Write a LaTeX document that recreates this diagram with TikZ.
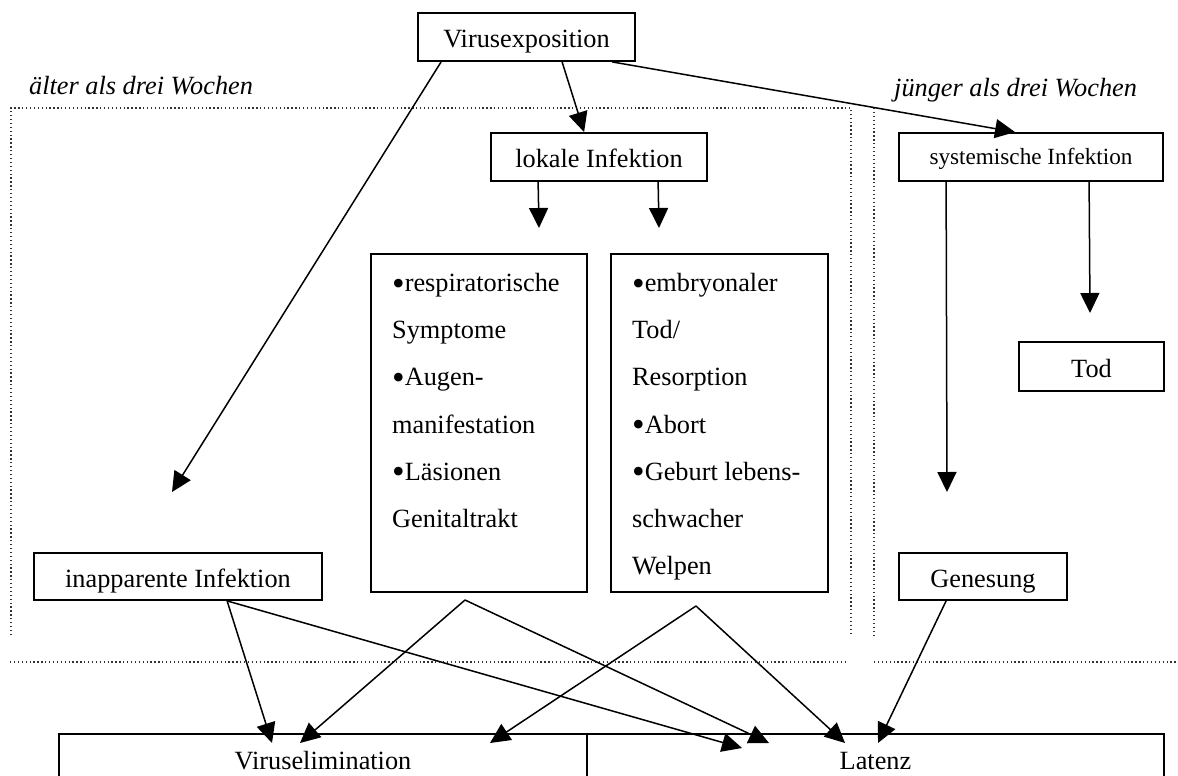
\documentclass[tikz,border=0pt]{standalone}
\usepackage{fontspec}
\setmainfont{Liberation Serif}
\usetikzlibrary{arrows.meta,calc}
\newcommand\mybul{{\fontsize{36}{30}\selectfont\raisebox{-3.4pt}{•}}}
\begin{document}
\begin{tikzpicture}[x=1pt,y=-1pt,
  box/.style={draw, line width=1.8pt, inner sep=0pt, text depth=0pt, font=\fontsize{26.3}{30}\selectfont},
  conn/.style={line width=1.5pt, -{Triangle[length=20pt,width=19pt]}},
  frame/.style={line width=1.1pt, black!80, dash pattern=on 1.3pt off 2.6pt},
  lbl/.style={font=\fontsize{26.3}{30}\selectfont, inner sep=0pt, anchor=base west},
  ital/.style={font=\fontsize{26.3}{30}\selectfont\itshape, inner sep=0pt, anchor=base west}]
\useasboundingbox (0,0) rectangle (1178,776);
\clip (0,0) rectangle (1178,776);

% dotted frames
\draw[frame] (11,635) -- (11,108) -- (851,108) -- (851,635);
\draw[frame] (874,108) -- (874,635);
\draw[frame] (10,662) -- (848,662);
\draw[frame] (874,662) -- (1178,662);

% labels
\node[ital] (old) at (29,95) {älter als drei Wochen};
\node[ital] (young) at (894,96) {jünger als drei Wochen};

% boxes
\node[box, minimum width=217pt, minimum height=48pt, text height=22pt] (vexp) at (526.5,37) {Virusexposition};
\node[box, minimum width=216pt, minimum height=48pt, text height=20pt] (lok) at (599,157) {lokale Infektion};
\node[box, minimum width=264pt, minimum height=48pt, text height=14pt, font=\fontsize{23.2}{28}\selectfont] (sys) at (1031,157) {systemische Infektion};
\node[box, line width=1.3pt, minimum width=145pt, minimum height=49pt, text height=21pt] (tod) at (1091.5,366.5) {Tod};
\node[box, minimum width=288pt, minimum height=47pt, text height=21pt] (inapp) at (178,576.5) {inapparente Infektion};
\node[box, minimum width=168pt, minimum height=47pt, text height=21pt] (gen) at (983,576.5) {Genesung};
\node[box, minimum width=216pt, minimum height=338pt] (sym) at (479,423) {};
\node[box, minimum width=217pt, minimum height=338pt] (emb) at (719.5,423) {};
\node[box, minimum width=528pt, minimum height=46pt, text height=24pt] (vel) at (323,757) {Viruselimination};
\node[box, minimum width=577pt, minimum height=46pt, text height=24pt] (lat) at (875.5,757) {Latenz};

% list texts
\foreach \t [count=\i from 0] in {\mybul respiratorische, Symptome, \mybul Augen-, manifestation, \mybul Läsionen, Genitaltrakt}
  \node[lbl] (s\i) at (392,291.7+47.1*\i) {\t};
\foreach \t [count=\i from 0] in {\mybul embryonaler, Tod/, Resorption, \mybul Abort, \mybul Geburt lebens-, schwacher, Welpen}
  \node[lbl] (e\i) at (632,291.7+47.1*\i) {\t};

% free ends
\coordinate (a1) at (172,492);
\coordinate (a2) at (539,228);
\coordinate (a3) at (659,228);
\coordinate (a4) at (947,492);
\coordinate (a5) at (1090,313);
\coordinate (p1) at (465,600);
\coordinate (p2) at (696,606);
\coordinate (v1) at (272,743);
\coordinate (v2) at (300,743);
\coordinate (v3) at (490,743);
\coordinate (l1) at (742,748);
\coordinate (l2) at (769,743);
\coordinate (l3) at (845,743);
\coordinate (l4) at (878,743);

% connectors
\draw[conn] ([xshift=24pt]vexp.south west) -- (a1);
\draw[conn] ([xshift=145pt]vexp.south west) -- ([xshift=94pt]lok.north west);
\draw[conn] ([xshift=195pt]vexp.south west) -- ([xshift=117pt]sys.north west);
\draw[conn] ([xshift=48pt]lok.south west) -- (a2);
\draw[conn] ([xshift=168pt]lok.south west) -- (a3);
\draw[conn] ([xshift=48pt]sys.south west) -- (a4);
\draw[conn] ([xshift=191pt]sys.south west) -- (a5);
\draw[conn] ([xshift=194pt]inapp.south west) -- (v1);
\draw[conn] ([xshift=194pt]inapp.south west) -- (l1);
\draw[conn] (p1) -- (v2);
\draw[conn] (p1) -- (l2);
\draw[conn] (p2) -- (v3);
\draw[conn] (p2) -- (l3);
\draw[conn] ([xshift=48pt]gen.south west) -- (l4);
\end{tikzpicture}
\end{document}
